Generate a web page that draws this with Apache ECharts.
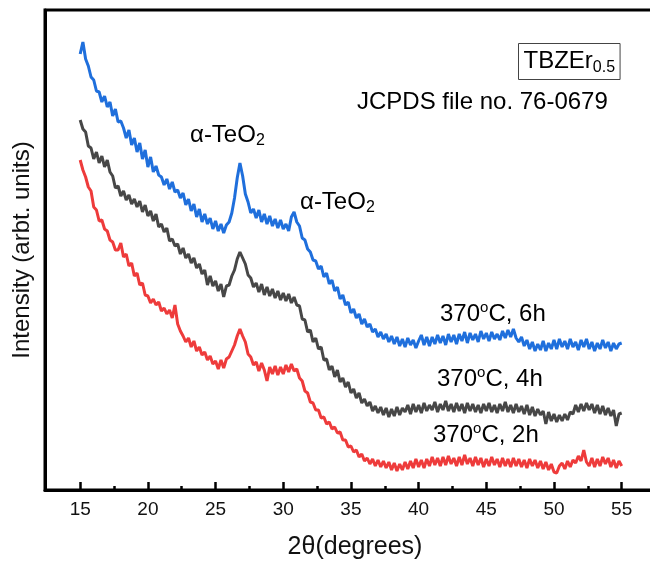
<!DOCTYPE html>
<html>
<head>
<meta charset="utf-8">
<script src="https://cdn.jsdelivr.net/npm/echarts@6/dist/echarts.min.js"></script>
<style>
  html, body { margin: 0; padding: 0; background: #fff; }
  #chart { width: 650px; height: 562px; }
</style>
</head>
<body>
<div id="chart"></div>
<script>
// 2theta sampling grid: 15.0 .. 55.0 deg, step 0.2
const twoTheta = [];
for (let i = 0; i <= 200; i++) twoTheta.push(+(15 + i * 0.2).toFixed(1));

// intensities (arbitrary units, curves already offset)
const int6h = [
  436, 448, 431, 424, 413, 410, 399, 398, 388, 394,
  383, 388, 374, 381, 368, 369, 362, 352, 360, 345,
  352, 338, 347, 331, 340, 323, 333, 318, 324, 315,
  313, 305, 311, 301, 308, 298, 300, 292, 297, 285,
  291, 279, 286, 273, 281, 268, 276, 266, 272, 261,
  269, 259, 266, 257, 265, 268, 277, 292, 312, 327,
  314, 296, 288, 277, 281, 272, 280, 268, 276, 266,
  274, 264, 271, 262, 270, 261, 266, 259, 273, 278,
  268, 264, 252, 250, 241, 238, 230, 229, 221, 224,
  213, 217, 206, 210, 199, 203, 191, 195, 185, 188,
  177, 181, 172, 176, 166, 171, 163, 166, 158, 161,
  153, 158, 151, 156, 148, 154, 146, 153, 144, 151,
  143, 152, 145, 150, 142, 149, 155, 145, 153, 144,
  153, 146, 155, 147, 154, 145, 156, 148, 155, 146,
  156, 149, 158, 147, 157, 150, 156, 148, 159, 151,
  157, 149, 158, 151, 156, 150, 159, 152, 160, 153,
  161, 152, 148, 153, 144, 150, 141, 148, 139, 146,
  140, 149, 139, 147, 141, 150, 141, 151, 143, 149,
  141, 151, 143, 148, 140, 150, 143, 151, 141, 148,
  139, 147, 141, 150, 142, 148, 139, 147, 141, 146,
  147
];
const int4h = [
  370, 361, 358, 344, 342, 331, 338, 327, 334, 323,
  330, 318, 314, 302, 304, 294, 299, 290, 295, 286,
  291, 283, 289, 278, 285, 274, 279, 269, 276, 263,
  266, 258, 262, 249, 251, 244, 246, 236, 242, 232,
  236, 227, 232, 222, 226, 216, 220, 205, 214, 204,
  209, 199, 206, 193, 204, 205, 214, 220, 231, 238,
  232, 226, 215, 212, 203, 207, 198, 206, 195, 203,
  194, 201, 192, 199, 190, 197, 189, 196, 187, 193,
  185, 184, 171, 170, 158, 160, 148, 152, 141, 143,
  130, 131, 120, 124, 113, 120, 108, 112, 103, 108,
  97, 101, 92, 97, 87, 91, 84, 88, 79, 84,
  77, 83, 75, 82, 73, 81, 74, 83, 75, 82,
  78, 85, 76, 86, 78, 85, 77, 87, 79, 85,
  80, 88, 78, 86, 80, 89, 79, 86, 78, 87,
  79, 86, 77, 87, 79, 86, 78, 85, 77, 86,
  79, 87, 78, 85, 77, 86, 79, 88, 78, 85,
  77, 86, 78, 84, 76, 85, 75, 83, 74, 81,
  75, 79, 66, 78, 69, 76, 68, 75, 69, 76,
  70, 78, 76, 85, 78, 86, 79, 87, 80, 86,
  77, 85, 76, 84, 75, 82, 74, 80, 64, 76,
  77
];
const int2h = [
  330, 320, 313, 303, 299, 283, 280, 269, 270, 261,
  259, 250, 248, 240, 240, 247, 233, 236, 224, 227,
  214, 217, 205, 207, 195, 194, 187, 191, 185, 188,
  179, 182, 176, 180, 172, 185, 166, 159, 154, 148,
  152, 143, 149, 139, 143, 135, 138, 130, 134, 126,
  129, 121, 130, 122, 131, 133, 139, 145, 154, 161,
  154, 148, 136, 133, 125, 128, 119, 127, 120, 109,
  123, 116, 124, 115, 123, 116, 125, 118, 126, 119,
  121, 112, 109, 99, 97, 88, 87, 80, 80, 72,
  73, 66, 68, 61, 63, 57, 58, 50, 50, 43,
  44, 38, 40, 33, 36, 29, 32, 26, 31, 24,
  30, 23, 29, 22, 28, 20, 27, 19, 26, 20,
  28, 21, 29, 22, 31, 23, 30, 22, 31, 24,
  33, 25, 32, 24, 33, 25, 34, 26, 32, 24,
  33, 25, 35, 26, 32, 24, 33, 25, 32, 23,
  31, 24, 33, 25, 31, 23, 32, 24, 31, 23,
  32, 24, 31, 23, 30, 22, 31, 24, 30, 22,
  29, 21, 28, 20, 26, 18, 17, 24, 27, 21,
  29, 23, 30, 27, 34, 29, 40, 28, 24, 32,
  23, 31, 24, 33, 26, 32, 23, 30, 22, 29,
  24
];

const majorTicks = [15, 20, 25, 30, 35, 40, 45, 50, 55];
const minorTicks = [17.5, 22.5, 27.5, 32.5, 37.5, 42.5, 47.5, 52.5];

const FONT = 'Liberation Sans, Arial, sans-serif';
const pairs = ys => twoTheta.map((x, i) => [x, ys[i]]);

const chart = echarts.init(document.getElementById('chart'));

const txt = { fontFamily: FONT, fontSize: 24, color: '#111', lineHeight: 28 };
const sup = { fontFamily: FONT, fontSize: 15, color: '#111', lineHeight: 12, verticalAlign: 'top' };
const sub = { fontFamily: FONT, fontSize: 16, color: '#111', lineHeight: 14, verticalAlign: 'bottom' };

function label(left, top, text, extra) {
  return {
    type: 'text', left: left, top: top, z: 100,
    style: Object.assign({ text: text, rich: { n: txt, sup: sup, sub: sub } }, extra || {})
  };
}

chart.setOption({
  animation: false,
  backgroundColor: '#fff',
  grid: {
    left: 45, right: -15, top: 10, bottom: 72,
    outerBoundsMode: 'none',
    show: true, borderColor: '#000', borderWidth: 3
  },
  xAxis: [
    {
      type: 'value', min: 12.4, max: 58.2,
      name: '2θ(degrees)', nameLocation: 'middle', nameGap: 45,
      nameTextStyle: { fontFamily: FONT, fontSize: 25, color: '#111' },
      axisLine: { lineStyle: { color: '#000', width: 3 } },
      axisTick: { inside: true, length: 8, lineStyle: { color: '#000', width: 2.5 }, customValues: majorTicks },
      axisLabel: { customValues: majorTicks, fontFamily: FONT, fontSize: 19, color: '#111', margin: 10 },
      splitLine: { show: false }
    },
    {
      type: 'value', min: 12.4, max: 58.2, position: 'bottom',
      axisLine: { show: false },
      axisTick: { inside: true, length: 4, lineStyle: { color: '#000', width: 2.5 }, customValues: minorTicks },
      axisLabel: { show: false },
      splitLine: { show: false }
    }
  ],
  yAxis: {
    type: 'value', min: 0, max: 480,
    name: 'Intensity (arbt. units)', nameLocation: 'middle', nameGap: 11,
    nameTextStyle: { fontFamily: FONT, fontSize: 24, color: '#111' },
    axisLine: { show: true, lineStyle: { color: '#000', width: 3 } },
    axisTick: { show: false },
    axisLabel: { show: false },
    splitLine: { show: false }
  },
  series: [
    { name: '370oC, 2h', type: 'line', data: pairs(int2h), showSymbol: false,
      lineStyle: { color: '#ee3b3b', width: 3 } },
    { name: '370oC, 4h', type: 'line', data: pairs(int4h), showSymbol: false,
      lineStyle: { color: '#474747', width: 3 } },
    { name: '370oC, 6h', type: 'line', data: pairs(int6h), showSymbol: false,
      lineStyle: { color: '#1f6fdc', width: 3 } }
  ],
  graphic: [
    label(518, 43, '{n|TBZEr}{sub|0.5}', { borderColor: '#444', borderWidth: 1, padding: [4, 5, 4, 5] }),
    label(357, 90, '{n|JCPDS file no. 76-0679}'),
    label(190, 123, '{n|α-TeO}{sub|2}'),
    label(300, 190, '{n|α-TeO}{sub|2}'),
    label(440, 300, '{n|370}{sup|o}{n|C, 6h}'),
    label(437, 365, '{n|370}{sup|o}{n|C, 4h}'),
    label(433, 421, '{n|370}{sup|o}{n|C, 2h}')
  ]
});
</script>
</body>
</html>
